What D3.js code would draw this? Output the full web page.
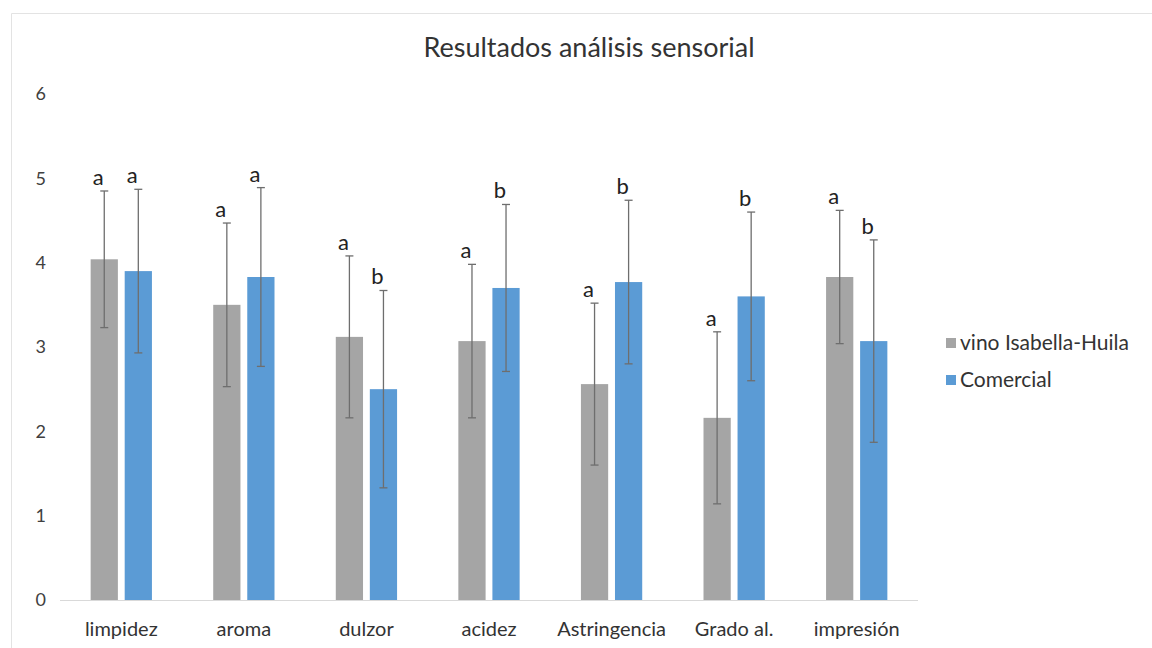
<!DOCTYPE html>
<html><head><meta charset="utf-8">
<script src="https://cdn.jsdelivr.net/npm/d3@7"></script>
<style>body{margin:0;background:#fff}svg{display:block}</style>
</head><body>
<svg id="c" width="1152" height="648"></svg>
<script>
const categories = ["limpidez","aroma","dulzor","acidez","Astringencia","Grado al.","impresión"];
const seriesNames = ["vino Isabella-Huila","Comercial"];
const isabella = [4.04, 3.50, 3.12, 3.07, 2.56, 2.16, 3.83];
const isabellaSD = [0.81, 0.97, 0.96, 0.91, 0.96, 1.02, 0.79];
const comercial = [3.90, 3.83, 2.50, 3.70, 3.77, 3.60, 3.07];
const comercialSD = [0.97, 1.06, 1.17, 0.99, 0.97, 1.00, 1.20];
const isabellaLetters = ["a","a","a","a","a","a","a"];
const comercialLetters = ["a","a","b","b","b","b","b"];
const yTicks = [0,1,2,3,4,5,6];

const colors = ["#A5A5A5","#5B9BD5"];
const font = "Lato, 'Open Sans', sans-serif";
const svg = d3.select("#c");

// frame
svg.append("path").attr("d","M11.5,648 V13.5 H1152").attr("fill","none").attr("stroke","#e3e3e3");

const x0 = d3.scaleBand().domain(categories).range([60,918]).paddingInner(0.5).paddingOuter(0.25);
const y = d3.scaleLinear().domain([0,6]).range([600,94]);
const x1 = d3.scaleBand().domain([0,1]).range([0,x0.bandwidth()]).paddingInner(0.2);

// title
svg.append("text").attr("x",589).attr("y",57).attr("text-anchor","middle")
  .attr("font-family",font).attr("font-size",27).attr("fill","#333").text("Resultados análisis sensorial");

// y axis labels
const yAxis = d3.axisLeft(y).tickValues(yTicks).tickFormat(d3.format("d")).tickSize(0).tickPadding(0);
const gy = svg.append("g").attr("transform","translate(46,0)").call(yAxis);
gy.select(".domain").remove();
gy.selectAll("text").attr("font-family",font).attr("font-size",18).attr("fill","#404040");

// baseline
const xAxis = d3.axisBottom(x0).tickSize(0).tickPadding(22);
const gx = svg.append("g").attr("transform","translate(0,600)").call(xAxis);
gx.select(".domain").attr("stroke","#d9d9d9").attr("d","M60,0.5H918");
gx.selectAll("text").attr("font-family",font).attr("font-size",20).attr("fill","#333");

const series = [
  {vals:isabella, sd:isabellaSD, letters:isabellaLetters},
  {vals:comercial, sd:comercialSD, letters:comercialLetters}
];

series.forEach((s,si)=>{
  const g = svg.append("g");
  const data = categories.map((c,i)=>({c, v:s.vals[i], sd:s.sd[i], l:s.letters[i]}));
  const bx = d => x0(d.c) + x1(si);
  const cx = d => bx(d) + x1.bandwidth()/2;
  g.selectAll("rect").data(data).join("rect")
    .attr("x",bx).attr("width",x1.bandwidth())
    .attr("y",d=>y(d.v)).attr("height",d=>y(0)-y(d.v)).attr("fill",colors[si]);
  const eg = g.selectAll("g.err").data(data).join("g").attr("class","err")
    .attr("stroke","#6e6e6e").attr("stroke-width",1.3);
  eg.append("line").attr("x1",cx).attr("x2",cx).attr("y1",d=>y(d.v+d.sd)).attr("y2",d=>y(d.v-d.sd));
  eg.append("line").attr("x1",d=>cx(d)-4).attr("x2",d=>cx(d)+4).attr("y1",d=>y(d.v+d.sd)).attr("y2",d=>y(d.v+d.sd));
  eg.append("line").attr("x1",d=>cx(d)-4).attr("x2",d=>cx(d)+4).attr("y1",d=>y(d.v-d.sd)).attr("y2",d=>y(d.v-d.sd));
  g.selectAll("text.lbl").data(data).join("text").attr("class","lbl")
    .attr("x",d=>cx(d)-6).attr("y",d=>y(d.v+d.sd)-6).attr("text-anchor","middle")
    .attr("font-family",font).attr("font-size",22).attr("fill","#222").text(d=>d.l);
});

// legend
const lg = svg.append("g");
seriesNames.forEach((n,i)=>{
  const yy = 343 + i*37;
  lg.append("rect").attr("x",946).attr("y",yy-5).attr("width",10).attr("height",10).attr("fill",colors[i]);
  lg.append("text").attr("x",960).attr("y",yy+7).attr("font-family",font).attr("font-size",21)
    .attr("fill","#333").text(n);
});
</script>
</body></html>
